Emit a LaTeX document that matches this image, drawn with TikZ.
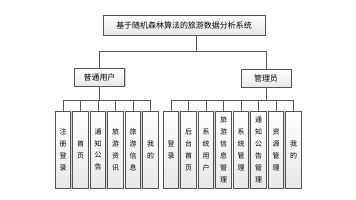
\documentclass[tikz,border=0pt]{standalone}
\usepackage{fontspec}
\newfontfamily\cjk{Noto Sans CJK SC}
\usetikzlibrary{shadows}
\begin{document}
\begin{tikzpicture}[x=1bp,y=-1bp,
  boxbase/.style={draw=gray!65!black,line width=0.7bp,top color=white,bottom color=gray!18,
    drop shadow={shadow xshift=1bp,shadow yshift=-1bp,opacity=0.35},inner sep=0pt,align=center},
  topbox/.style={boxbase,minimum width=162bp,minimum height=20bp,font=\cjk\fontsize{8}{9}\selectfont},
  midbox/.style={boxbase,minimum width=50bp,minimum height=18bp,font=\cjk\fontsize{8}{9}\selectfont},
  leaf/.style={boxbase,minimum width=15.5bp,minimum height=77bp,font=\cjk\fontsize{7}{12}\selectfont},
  conn/.style={draw=gray!70!black,line width=0.7bp}]
\useasboundingbox (0,0) rectangle (356,200);
\node[topbox] (top) at (184,25) {基于随机森林算法的旅游数据分析系统};
\node[midbox] (user) at (99.5,77) {普通用户};
\node[midbox] (admin) at (266,78) {管理员};
% left leaves
\node[leaf] (l1) at (63,149.5) {注\\册\\登\\录};
\node[leaf] (l2) at (80.5,149.5) {首\\页};
\node[leaf] (l3) at (98,149.5) {通\\知\\公\\告};
\node[leaf] (l4) at (115.5,149.5) {旅\\游\\资\\讯};
\node[leaf] (l5) at (133,149.5) {旅\\游\\信\\息};
\node[leaf] (l6) at (150.5,149.5) {我\\的};
% right leaves
\node[leaf] (r1) at (171,149.5) {登\\录};
\node[leaf] (r2) at (188.5,149.5) {后\\台\\首\\页};
\node[leaf] (r3) at (206,149.5) {系\\统\\用\\户};
\node[leaf] (r4) at (223.5,149.5) {旅\\游\\信\\息\\管\\理};
\node[leaf] (r5) at (241,149.5) {系\\统\\管\\理};
\node[leaf] (r6) at (258.5,149.5) {通\\知\\公\\告\\管\\理};
\node[leaf] (r7) at (276,149.5) {资\\源\\管\\理};
\node[leaf] (r8) at (293.5,149.5) {我\\的};
% connectors
\coordinate (busT) at (196,51);
\coordinate (busL) at (0,100);
\path[conn] (top.south -| busT) -- (busT)
  (busT -| user) -- (busT -| admin)
  (busT -| user) -- (user.north)
  (busT -| admin) -- (admin.north);
\draw[conn] (user.south) -- (user.south |- busL);
\draw[conn] (l1.north |- busL) -- (l6.north |- busL);
\foreach \n in {l1,l2,l3,l4,l5,l6}{\draw[conn] (\n.north |- busL) -- (\n.north);}
\draw[conn] (admin.south) -- (admin.south |- busL);
\draw[conn] (r1.north |- busL) -- (r8.north |- busL);
\foreach \n in {r1,r2,r3,r4,r5,r6,r7,r8}{\draw[conn] (\n.north |- busL) -- (\n.north);}
\end{tikzpicture}
\end{document}
